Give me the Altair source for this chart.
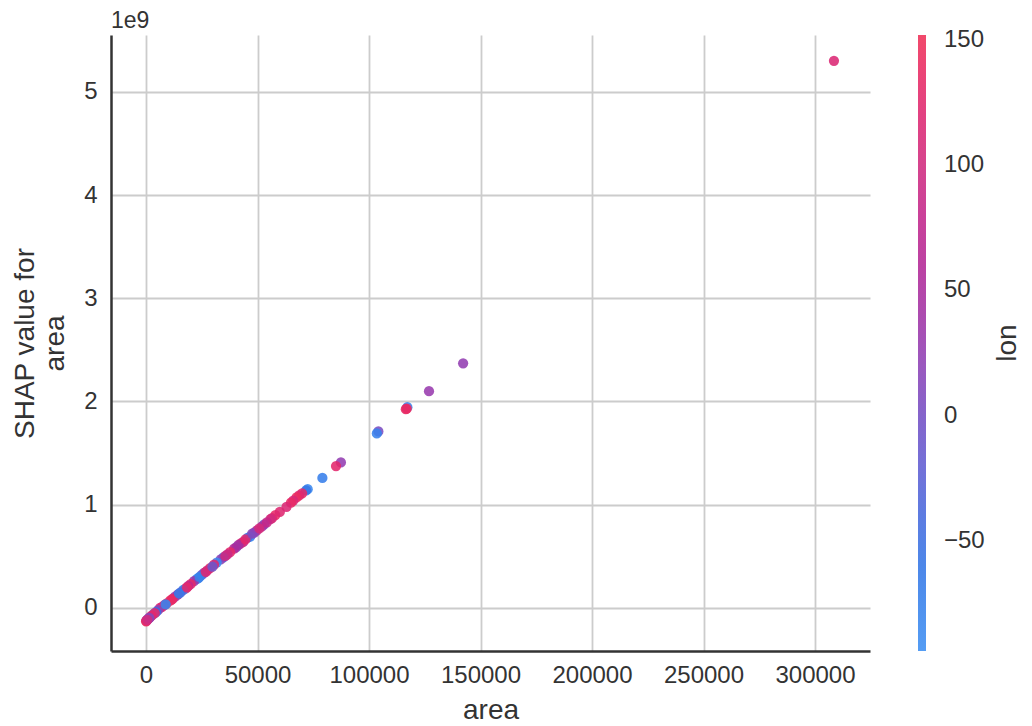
import altair as alt
import pandas as pd

# area (raw), SHAP value for area (units of 1e9), lon
area = [308500, 142200, 126900, 117200, 116900, 116500, 104200, 103500,
        87400, 85200, 79100, 72500, 71800, 70000, 68700, 67500, 66000, 65000,
        58000, 56500, 55800, 53000, 52000, 49600, 48500, 46700, 45500, 43600,
        42500, 40500, 39500, 37700, 36500, 34700, 33500, 31700, 30500, 28700,
        27500, 26000, 25000, 23500, 22700, 21500, 20000, 19000, 17800, 16700,
        15500, 14200, 13000, 12000, 10800, 9300, 8300, 7200, 6300, 5400,
        4500, 3300, 2500, 1800, 1200, 700, 300, 100, 50,
        24000, 26800, 29800, 11500, 14800, 18400, 8800, 3900, 1500, 600,
        35600, 41500, 44600, 47600, 50800, 54200, 60000, 63000]
shap = [5.30, 2.37, 2.10, 1.945, 1.93, 1.925, 1.71, 1.69,
        1.41, 1.375, 1.26, 1.15, 1.14, 1.11, 1.09, 1.07, 1.04, 1.02,
        0.90, 0.87, 0.86, 0.81, 0.79, 0.75, 0.73, 0.69, 0.68, 0.64,
        0.625, 0.59, 0.575, 0.54, 0.52, 0.49, 0.47, 0.44, 0.42, 0.385,
        0.365, 0.34, 0.32, 0.29, 0.28, 0.26, 0.23, 0.215, 0.19, 0.175,
        0.15, 0.13, 0.11, 0.09, 0.07, 0.045, 0.03, 0.01, 0.0, -0.02,
        -0.04, -0.06, -0.075, -0.09, -0.10, -0.11, -0.12, -0.125, -0.13,
        0.30, 0.35, 0.40, 0.08, 0.14, 0.20, 0.035, -0.05, -0.095, -0.115,
        0.505, 0.61, 0.665, 0.72, 0.77, 0.83, 0.93, 0.98]
lon = [115, 25, 30, -80, 140, 135, 5, -75,
       25, 125, -70, -85, -60, 130, 120, 140, 110, 135,
       135, 120, 100, 0, 40, 80, 20, -80, -60, 70,
       110, 10, 60, 130, 90, -40, 20, -85, 120, 140,
       100, 30, -20, -60, -85, 40, 130, 80, 110, -70,
       -30, 60, 20, 120, 140, 130, 70, 100, 120, 10,
       -50, -80, 130, 90, 40, 20, 30, 60, 140,
       -75, 115, -10, 135, -65, 125, -80, 125, 15, 100,
       95, 45, 125, 15, 105, 85, 120, 115]

df = pd.DataFrame({"area": area, "shap": shap, "lon": lon})

FONT = "Liberation Sans"
TXT = "#333333"

color_scale = alt.Scale(
    domain=[-94, -50, 0, 50, 100, 152],
    range=["#3d8ff2", "#3570e2", "#744fc4", "#a92a9c", "#d02b7e", "#ef3157"],
)

points = alt.Chart(df).mark_circle(size=105, opacity=0.88).encode(
    x=alt.X("area:Q", title="area",
            scale=alt.Scale(domain=[-15700, 324660], nice=False, zero=False),
            axis=alt.Axis(values=[0, 50000, 100000, 150000, 200000, 250000, 300000],
                          format="d", labelFontSize=24, titleFontSize=28,
                          labelPadding=12, titlePadding=9, ticks=False,
                          labelColor=TXT, titleColor=TXT, titleFontWeight="normal",
                          domainColor=TXT, domainWidth=2.5,
                          gridColor="#cccccc", gridWidth=1.8)),
    y=alt.Y("shap:Q", title=["SHAP value for", "area"],
            scale=alt.Scale(domain=[-0.417, 5.55], nice=False, zero=False),
            axis=alt.Axis(values=[0, 1, 2, 3, 4, 5], format="d",
                          labelFontSize=24, titleFontSize=28, labelPadding=14,
                          titlePadding=14, ticks=False, labelColor=TXT,
                          titleColor=TXT, titleFontWeight="normal",
                          titleLineHeight=30,
                          domainColor=TXT, domainWidth=2.5,
                          gridColor="#cccccc", gridWidth=1.8)),
    color=alt.Color("lon:Q", scale=color_scale,
                    legend=alt.Legend(title=None, orient="none", legendX=807,
                                      legendY=0, direction="vertical",
                                      gradientLength=616, gradientThickness=8,
                                      gradientStrokeWidth=0,
                                      values=[-50, 0, 50, 100, 150],
                                      labelFontSize=24, labelColor=TXT,
                                      labelOffset=18, labelOverlap=False)),
)

offset_text = alt.Chart(pd.DataFrame({"t": ["1e9"]})).mark_text(
    align="left", baseline="alphabetic", fontSize=23, font=FONT, color=TXT
).encode(x=alt.value(0), y=alt.value(-7), text="t:N")

lon_title = alt.Chart(pd.DataFrame({"t": ["lon"]})).mark_text(
    align="center", baseline="middle", fontSize=28, font=FONT, color=TXT, angle=270
).encode(x=alt.value(897), y=alt.value(308), text="t:N")

chart = alt.layer(points, offset_text, lon_title).properties(
    width=759, height=616,
    autosize=alt.AutoSizeParams(type="none"),
    padding={"left": 103, "top": 27, "right": 154, "bottom": 75},
).configure(font=FONT).configure_view(stroke=None).configure_legend(
    gradientVerticalMaxLength=616
)

chart.save("out.html", embed_options={"renderer": "svg", "actions": False})
